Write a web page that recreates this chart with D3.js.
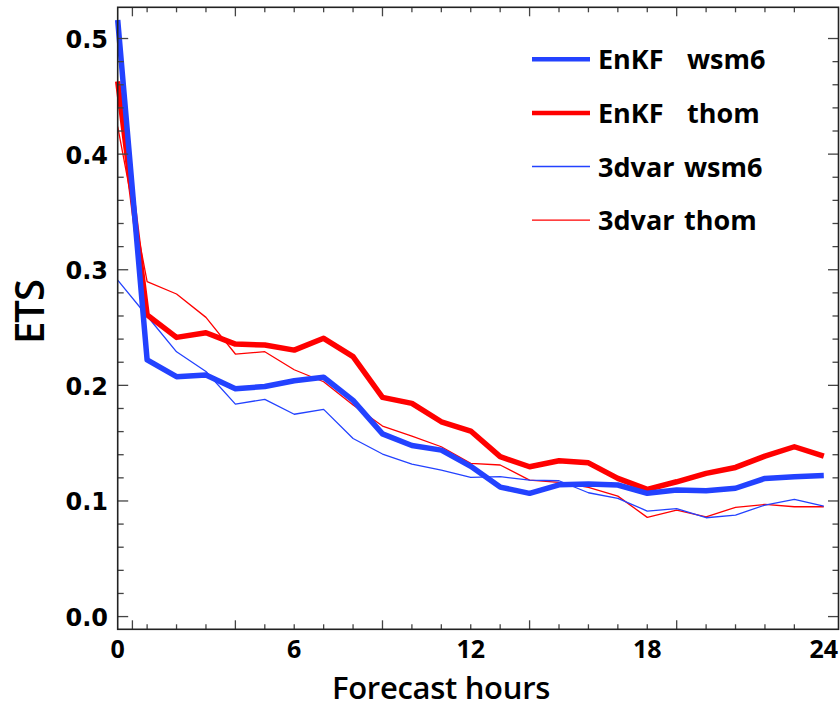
<!DOCTYPE html>
<html>
<head>
<meta charset="utf-8">
<script src="https://cdn.jsdelivr.net/npm/d3@7"></script>
<style>
	body	{ margin:0; background:#fff; }
	svg		{ display:block; }
</style>
</head>
<body>
<svg id="chart" width="840" height="708"></svg>
<script>

// forecast hours 0..24
var hours 	= d3.range(0,25);

var enkfWsm6	= [0.516,0.222,0.2075,0.209,0.197,0.199,0.204,0.207,0.187,0.158,0.148,0.144,0.130,0.112,0.1066,0.114,0.1146,0.1138,0.1066,0.1094,0.1088,0.111,0.1195,0.121,0.122];
var enkfThom	= [0.463,0.261,0.2415,0.2455,0.2357,0.2349,0.2305,0.2407,0.2248,0.1896,0.1844,0.1685,0.1605,0.1383,0.1296,0.1348,0.133,0.1195,0.110,0.1166,0.1239,0.129,0.1388,0.1469,0.1388];
var varWsm6		= [0.291,0.260,0.229,0.212,0.1838,0.1879,0.175,0.1792,0.154,0.1406,0.1319,0.1267,0.1204,0.121,0.118,0.1175,0.1071,0.1022,0.0913,0.0933,0.0855,0.0878,0.0965,0.1014,0.0956];
var varThom		= [0.4237,0.2897,0.279,0.2588,0.2271,0.2291,0.2135,0.2031,0.183,0.1648,0.1561,0.1469,0.1325,0.1311,0.118,0.116,0.1118,0.1042,0.0858,0.0921,0.0863,0.0945,0.097,0.095,0.095];

var seriesNames	= [['EnKF','wsm6'],['EnKF','thom'],['3dvar','wsm6'],['3dvar','thom']];

var xTickLabels	= [0,6,12,18,24];
var xMinorTicks	= d3.range(1,24);
var xLongTicks	= [0.5,4,9,14,19,24];
var yTickLabels	= [0.0,0.1,0.2,0.3,0.4,0.5];
var yMinorTicks	= d3.range(0,26).map(d=>d*0.02);


//------------------------------------------------------------------
//
//------------------------------------------------------------------
function drawChart()	{

	var svg	= d3.select('#chart'),
			L		= 117.7,
			R		= 838.5,
			T		= 7.3,
			B		= 629.3,
			x		= d3.scaleLinear().domain([0,24.5]).range([L,R]),
			y		= d3.scaleLinear().domain([-0.011,0.527]).range([B,T]);

	var series = [
		{ vals:enkfWsm6, color:'#2342ff', w:5.5 },
		{ vals:enkfThom, color:'#ff0000', w:5.5 },
		{ vals:varWsm6,  color:'#2342ff', w:1.3 },
		{ vals:varThom,  color:'#ff0000', w:1.3 },
	];

	var line = d3.line().x((d,i)=>x(hours[i])).y(d=>y(d));

	// lines, thin ones underneath
	svg.append('g')
		.selectAll('path')
		.data(series.slice().reverse())
		.enter()
			.append('path')
				.attr('d',d=>line(d.vals))
				.attr('fill','none')
				.attr('stroke',d=>d.color)
				.attr('stroke-width',d=>d.w)
				.attr('stroke-linejoin','round');

	// ticks: bottom + top, left + right
	var tk = svg.append('g').attr('stroke','#444').attr('stroke-width',1.3);

	tk.selectAll('.xt')
		.data(xMinorTicks.concat([0.5]))
		.enter()
			.append('g')
				.call(sel=>{
					var len = d=>xLongTicks.indexOf(d)>=0 ? 9 : 5;
					sel.append('line')
						.attr('x1',d=>x(d)).attr('x2',d=>x(d))
						.attr('y1',B).attr('y2',d=>B-len(d));
					sel.append('line')
						.attr('x1',d=>x(d)).attr('x2',d=>x(d))
						.attr('y1',T).attr('y2',d=>T+len(d));
				});

	tk.selectAll('.yt')
		.data(yMinorTicks)
		.enter()
			.append('g')
				.call(sel=>{
					var len = (d,i)=>i%5==0 ? 10.5 : 6;
					sel.append('line')
						.attr('x1',L).attr('x2',(d,i)=>L+len(d,i))
						.attr('y1',d=>y(d)).attr('y2',d=>y(d));
					sel.append('line')
						.attr('x1',R).attr('x2',(d,i)=>R-len(d,i))
						.attr('y1',d=>y(d)).attr('y2',d=>y(d));
				});

	// frame
	svg.append('rect')
		.attr('x',L).attr('y',T)
		.attr('width',R-L).attr('height',B-T)
		.attr('fill','none')
		.attr('stroke','#222')
		.attr('stroke-width',1.6);

	// tick labels
	svg.append('g')
		.selectAll('text')
		.data(yTickLabels)
		.enter()
			.append('text')
				.attr('x',108)
				.attr('y',d=>y(d)+1.5)
				.attr('text-anchor','end')
				.attr('dominant-baseline','central')
				.style('font','bold 24px "DejaVu Sans"')
				.text(d=>d3.format('.1f')(d));

	svg.append('g')
		.selectAll('text')
		.data(xTickLabels)
		.enter()
			.append('text')
				.attr('x',d=>x(d))
				.attr('y',658)
				.attr('text-anchor','middle')
				.style('font','bold 25px "Open Sans"')
				.text(d=>d);

	// axis titles
	svg.append('text')
		.attr('x',441).attr('y',698.5)
		.attr('text-anchor','middle')
		.style('font','600 31px "Open Sans"')
		.style('letter-spacing','-0.3px')
		.text('Forecast hours');

	svg.append('text')
		.attr('transform','translate(28,312) rotate(-90)')
		.attr('text-anchor','middle')
		.attr('dominant-baseline','central')
		.style('font','600 40px "Open Sans"')
		.style('letter-spacing','-1px')
		.text('ETS');

	// legend
	var lg = svg.append('g')
		.selectAll('g')
		.data(series)
		.enter()
			.append('g')
				.attr('transform',(d,i)=>'translate(0,'+(59.3+i*53.6)+')');

	lg.append('line')
		.attr('x1',532).attr('x2',590)
		.attr('stroke',d=>d.color)
		.attr('stroke-width',d=>d.w>2 ? 4.5 : 1.3);

	lg.append('text')
		.attr('y',10)
		.style('font','bold 27px "Open Sans"')
		.call(sel=>{
			sel.append('tspan').attr('x',598).text((d,i)=>seriesNames[i][0]);
			sel.append('tspan').attr('x',(d,i)=>i<2 ? 687 : 684).text((d,i)=>seriesNames[i][1]);
		});

}

drawChart();

</script>
</body>
</html>
